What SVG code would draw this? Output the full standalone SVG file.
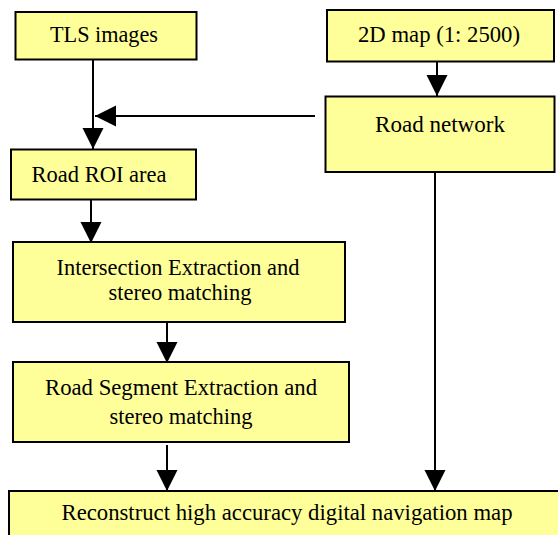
<svg xmlns="http://www.w3.org/2000/svg" width="558" height="535" viewBox="0 0 558 535">
  <style>
    .box { fill: #FFFF99; stroke: #000; stroke-width: 2; }
    .edge { fill: none; stroke: #000; stroke-width: 2; }
    text { font-family: "Liberation Serif", "DejaVu Serif", serif; font-size: 23px; fill: #000; text-anchor: middle; }
  </style>
  <defs>
    <marker id="arrow" markerUnits="userSpaceOnUse" markerWidth="22" markerHeight="22" refX="21" refY="10.5" orient="auto">
      <path d="M0,0 L21,10.5 L0,21 Z" fill="#000"/>
    </marker>
  </defs>

  <rect width="558" height="535" fill="#fff"/>

  <g id="connectors">
    <line class="edge" x1="93" y1="60" x2="93" y2="149" marker-end="url(#arrow)"/>
    <line class="edge" x1="315" y1="116" x2="95" y2="116" marker-end="url(#arrow)"/>
    <line class="edge" x1="437" y1="62" x2="437" y2="96" marker-end="url(#arrow)"/>
    <line class="edge" x1="91" y1="200" x2="91" y2="243" marker-end="url(#arrow)"/>
    <line class="edge" x1="167" y1="322" x2="167" y2="363" marker-end="url(#arrow)"/>
    <line class="edge" x1="167" y1="445" x2="167" y2="491" marker-end="url(#arrow)"/>
    <line class="edge" x1="435" y1="172" x2="435" y2="491" marker-end="url(#arrow)"/>
  </g>

  <g id="tls-images">
    <rect class="box" x="15.5" y="12" width="181" height="47.5"/>
    <text x="104" y="42" textLength="108" lengthAdjust="spacingAndGlyphs">TLS images</text>
  </g>

  <g id="map-2d">
    <rect class="box" x="327" y="10" width="227" height="51.5"/>
    <text x="439" y="42" textLength="162" lengthAdjust="spacingAndGlyphs">2D map (1: 2500)</text>
  </g>

  <g id="road-network">
    <rect class="box" x="325.5" y="96.5" width="229" height="75.5"/>
    <text x="440" y="132" textLength="130" lengthAdjust="spacingAndGlyphs">Road network</text>
  </g>

  <g id="road-roi">
    <rect class="box" x="11" y="149.5" width="185" height="50"/>
    <text x="99" y="182" textLength="135" lengthAdjust="spacingAndGlyphs">Road ROI area</text>
  </g>

  <g id="intersection">
    <rect class="box" x="13" y="242" width="332" height="80"/>
    <text x="178" y="275" textLength="243" lengthAdjust="spacingAndGlyphs">Intersection Extraction and</text>
    <text x="180" y="300" textLength="143" lengthAdjust="spacingAndGlyphs">stereo matching</text>
  </g>

  <g id="road-segment">
    <rect class="box" x="13" y="362" width="336" height="80"/>
    <text x="181" y="395" textLength="272" lengthAdjust="spacingAndGlyphs">Road Segment Extraction and</text>
    <text x="181" y="424" textLength="143" lengthAdjust="spacingAndGlyphs">stereo matching</text>
  </g>

  <g id="reconstruct">
    <rect class="box" x="9" y="491" width="560" height="60"/>
    <text x="287" y="520" textLength="451" lengthAdjust="spacingAndGlyphs">Reconstruct high accuracy digital navigation map</text>
  </g>
</svg>
